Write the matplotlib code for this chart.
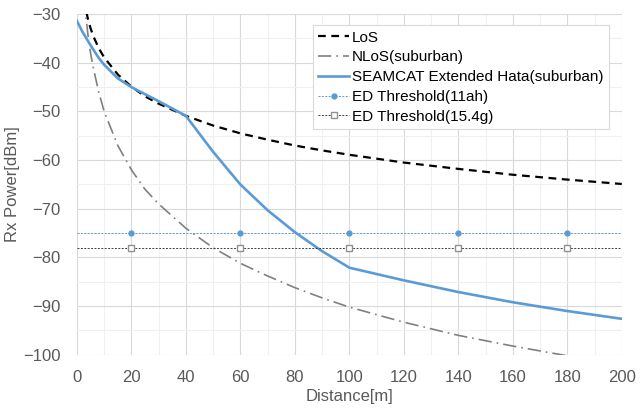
import matplotlib
matplotlib.use('Agg')
import matplotlib.pyplot as plt
from matplotlib.ticker import MultipleLocator

plt.rcParams['font.family'] = ['Liberation Sans', 'DejaVu Sans']

# data
los_d = [1, 2, 3, 4, 5, 6, 8, 10, 15, 20, 25, 30, 40, 50, 60, 70, 80, 90, 100, 120, 140, 160, 180, 200]
los_p = [-18.9, -24.9, -28.4, -30.9, -32.9, -34.5, -37.0, -38.9, -42.4, -44.9, -46.9, -48.4, -50.9,
         -52.9, -54.5, -55.8, -57.0, -58.0, -58.9, -60.5, -61.8, -63.0, -64.0, -64.9]

nlos_d = [2, 3, 4, 5, 6, 8, 10, 15, 20, 25, 30, 40, 50, 60, 70, 80, 90, 100, 120, 140, 160, 180, 200]
nlos_p = [-22, -29, -34, -38, -41, -46, -50, -57, -62, -66, -69, -74, -78, -81.2, -83.8, -86.2,
          -88.3, -90.2, -93.3, -96.0, -98.2, -100.2, -102]

hata_d = [0, 2, 5, 8, 10, 15, 20, 30, 40, 50, 60, 70, 80, 90, 100, 120, 140, 160, 180, 200]
hata_p = [-31.4, -33.6, -36.4, -39.0, -40.4, -43.2, -45.0, -47.9, -50.9, -58.3, -65.0, -70.3,
          -74.8, -78.7, -82.1, -84.7, -87.1, -89.2, -91.0, -92.6]

th_d = [0, 20, 60, 100, 140, 180, 200]
th_11ah = [-75] * len(th_d)
th_154g = [-78] * len(th_d)

blue = '#5B9BD5'
txt = '#595959'

fig = plt.figure(figsize=(6.41, 4.15), dpi=100)
ax = fig.add_axes([0.120, 0.145, 0.850, 0.821])

ax.plot(los_d, los_p, color='black', ls=(0, (3.5, 2.5)), lw=1.6, label='LoS')
ax.plot(nlos_d, nlos_p, color='#808080', ls=(0, (8, 3, 1, 3)), lw=1.2, label='NLoS(suburban)')
ax.plot(hata_d, hata_p, color=blue, lw=1.9, label='SEAMCAT Extended Hata(suburban)')
ax.plot(th_d, th_11ah, color=blue, ls=(0, (2, 1.5)), lw=0.7, marker='o', ms=3.5,
        markevery=[1, 2, 3, 4, 5], label='ED Threshold(11ah)')
ax.plot(th_d, th_154g, color='#404040', ls=(0, (2, 1.5)), lw=0.7, marker='s', ms=4,
        mfc='white', mec='#909090', markevery=[1, 2, 3, 4, 5], label='ED Threshold(15.4g)')

ax.set_xlim(0, 200)
ax.set_ylim(-100, -30)
ax.xaxis.set_major_locator(MultipleLocator(20))
ax.xaxis.set_minor_locator(MultipleLocator(10))
ax.yaxis.set_major_locator(MultipleLocator(10))
ax.yaxis.set_minor_locator(MultipleLocator(5))
ax.grid(which='major', color='#D9D9D9', lw=0.8)
ax.grid(which='minor', color='#F0F0F0', lw=0.8)
ax.set_axisbelow(True)
for s in ax.spines.values():
    s.set_visible(False)
ax.tick_params(which='both', length=0, labelsize=12, colors=txt)
ax.tick_params(axis='x', pad=11)
ax.tick_params(axis='y', pad=12)

ax.set_xlabel('Distance[m]', fontsize=12, color=txt, labelpad=3)
ax.set_ylabel('Rx Power[dBm]', fontsize=12, color=txt, labelpad=2)

leg = ax.legend(loc='upper right', bbox_to_anchor=(0.99, 0.99), fontsize=11, frameon=True,
                fancybox=False, edgecolor='#D9D9D9', framealpha=1, handlelength=2.0,
                handletextpad=0.2, borderpad=0.35, labelspacing=0.38)
leg.get_frame().set_linewidth(0.8)
for t in leg.get_texts():
    t.set_color('black')

fig.savefig('out.png', dpi=100)
